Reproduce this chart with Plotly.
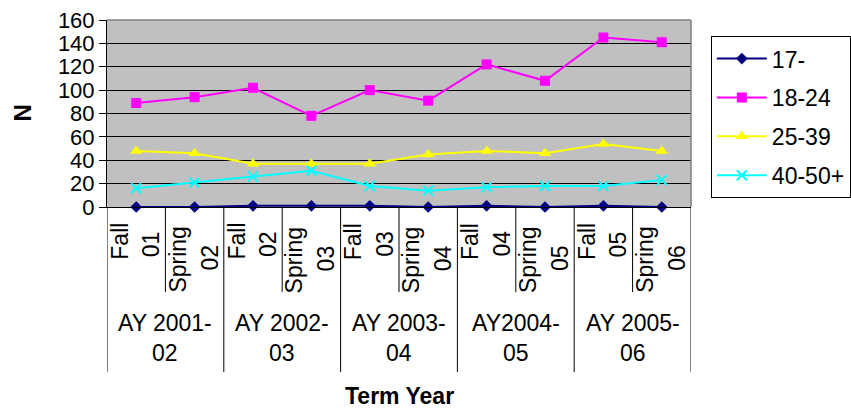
import plotly.graph_objects as go

# ---- data ----
term_words = ["Fall", "Spring", "Fall", "Spring", "Fall", "Spring", "Fall", "Spring", "Fall", "Spring"]
term_years = ["01", "02", "02", "03", "03", "04", "04", "05", "05", "06"]
ay_top = ["AY 2001-", "AY 2002-", "AY 2003-", "AY2004-", "AY 2005-"]
ay_bottom = ["02", "03", "04", "05", "06"]

series_names = ["17-", "18-24", "25-39", "40-50+"]
v_17 = [0, 0, 1, 1, 1, 0, 1, 0, 1, 0]
v_18_24 = [89, 94, 102, 78, 100, 91, 122, 108, 145, 141]
v_25_39 = [48, 46, 37, 37, 37, 45, 48, 46, 54, 48]
v_40_50 = [16, 21, 26, 31, 18, 14, 17, 18, 18, 23]

y_ticks = [0, 20, 40, 60, 80, 100, 120, 140, 160]

FONT = "Arial, Liberation Sans, sans-serif"
FS = 23
x = list(range(len(term_words)))

styles = [
    dict(color="#000080", symbol="diamond", size=9, line=dict(width=0)),
    dict(color="#FF00FF", symbol="square", size=10, line=dict(width=0)),
    dict(color="#FFFF00", symbol="triangle-up", size=11, line=dict(width=0)),
    dict(color="#00FFFF", symbol="x-thin", size=10, line=dict(width=2, color="#00FFFF")),
]
values = [v_17, v_18_24, v_25_39, v_40_50]

fig = go.Figure()
for name, vals, st in zip(series_names, values, styles):
    fig.add_trace(go.Scatter(
        x=x, y=vals, name=name, mode="lines+markers",
        line=dict(color=st["color"], width=2),
        marker=st, cliponaxis=False, legendgroup=name,
    ))

shapes = []
annotations = []
# inner dividers (between Fall and Spring within each AY)
for i in range(0, len(x), 2):
    shapes.append(dict(type="line", xref="x", yref="paper", x0=i + 0.5, x1=i + 0.5,
                       y0=0, y1=-0.455, line=dict(color="black", width=1)))
# group dividers
for g in range(len(ay_top) + 1):
    xv = g * 2 - 0.5
    shapes.append(dict(type="line", xref="x", yref="paper", x0=xv, x1=xv,
                       y0=0, y1=-0.882, line=dict(color="black", width=1)))
# gray top/right border of plot area
shapes.append(dict(type="line", xref="paper", yref="paper", x0=0, x1=1, y0=1, y1=1,
                   line=dict(color="#808080", width=1.5), layer="above"))
shapes.append(dict(type="line", xref="paper", yref="paper", x0=1, x1=1, y0=0, y1=1,
                   line=dict(color="#808080", width=1.5), layer="above"))

for i, (w, yr) in enumerate(zip(term_words, term_years)):
    is_fall = (i % 2 == 0)
    annotations.append(dict(x=i, y=0, xref="x", yref="paper", text=w, showarrow=False,
                            textangle=-90, xanchor="center", yanchor="top",
                            xshift=-17, yshift=-14 if is_fall else -18,
                            font=dict(family=FONT, size=FS, color="black")))
    annotations.append(dict(x=i, y=0, xref="x", yref="paper", text=yr, showarrow=False,
                            textangle=-90, xanchor="center", yanchor="middle",
                            xshift=15, yshift=-37 if is_fall else -51,
                            font=dict(family=FONT, size=FS, color="black")))

for g, (t, b) in enumerate(zip(ay_top, ay_bottom)):
    xc = g * 2 + 0.5
    annotations.append(dict(x=xc, y=0, xref="x", yref="paper", text=t, showarrow=False,
                            xanchor="center", yanchor="middle", yshift=-116,
                            font=dict(family=FONT, size=FS, color="black")))
    annotations.append(dict(x=xc, y=0, xref="x", yref="paper", text=b, showarrow=False,
                            xanchor="center", yanchor="middle", yshift=-146,
                            font=dict(family=FONT, size=FS, color="black")))

annotations.append(dict(x=0.5, y=0, xref="paper", yref="paper", text="<b>Term Year</b>",
                        showarrow=False, xanchor="center", yanchor="middle", yshift=-189,
                        font=dict(family=FONT, size=23, color="black")))
annotations.append(dict(x=0, y=0.5, xref="paper", yref="paper", text="<b>N</b>",
                        showarrow=False, textangle=-90, xanchor="center", yanchor="middle",
                        xshift=-85, font=dict(family=FONT, size=24, color="black")))

fig.update_layout(
    width=851, height=411,
    margin=dict(l=107, r=160, t=20, b=204, autoexpand=False),
    paper_bgcolor="white", plot_bgcolor="#C0C0C0",
    font=dict(family=FONT, size=FS, color="black"),
    showlegend=True,
    legend=dict(x=1.034, y=0.914, xanchor="left", yanchor="top",
                bgcolor="white", bordercolor="black", borderwidth=1,
                font=dict(family=FONT, size=FS, color="black"),
                tracegroupgap=6, itemwidth=50),
    shapes=shapes, annotations=annotations,
)
fig.update_xaxes(range=[-0.5, len(x) - 0.5], showticklabels=False, ticks="",
                 showgrid=False, zeroline=False, showline=True, linecolor="black", linewidth=1)
fig.update_yaxes(range=[0, 160], tickvals=y_ticks, ticks="outside", ticklen=7,
                 tickcolor="black", showgrid=True, gridcolor="black", gridwidth=1,
                 zeroline=False, showline=True, linecolor="black", linewidth=1,
                 tickfont=dict(family=FONT, size=22, color="black"))

fig.write_html("out.html", config={"displayModeBar": False},
               post_script="document.body.style.margin='0';document.body.style.overflow='hidden';")
